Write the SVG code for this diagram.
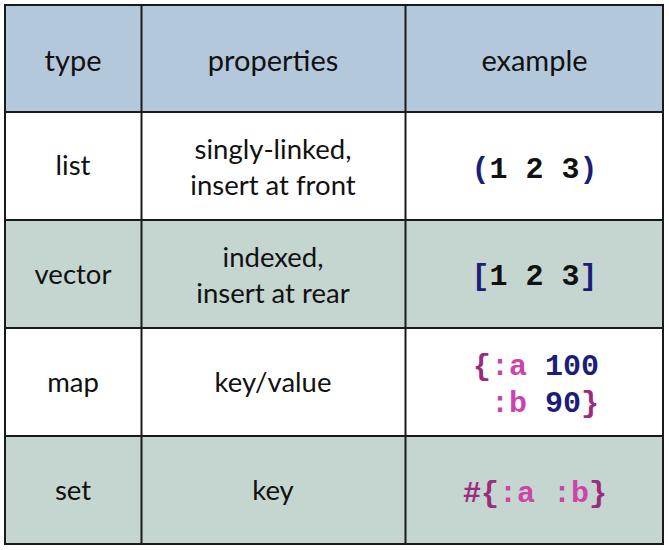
<svg xmlns="http://www.w3.org/2000/svg" width="669" height="550" viewBox="0 0 669 550">
<style>
.hdr{fill:#b4c8dc}
.alt{fill:#c5d5cf}
.wht{fill:#ffffff}
.grid{stroke:#1a1a1a;stroke-width:2;fill:none}
.t{font-family:Lato,"Open Sans","Liberation Sans",sans-serif;fill:#111;text-anchor:middle}
.h{font-size:29px}
.b{font-size:27.5px}
.c{font-family:"Liberation Mono","DejaVu Sans Mono",monospace;font-weight:bold;font-size:30px;text-anchor:middle;fill:#111}
.nv{fill:#1c1c7a}
.pk{fill:#cc44aa}
.pu{fill:#9a2c80}
.bk{fill:#111}
</style>
<rect width="669" height="550" fill="#ffffff"/>
<g id="header">
<rect class="hdr" x="5" y="5" width="658" height="107"/>
<text class="t h" x="73" y="71">type</text>
<text class="t h" x="273" y="71">properties</text>
<text class="t h" x="534.5" y="71">example</text>
</g>
<g id="row-list">
<rect class="wht" x="5" y="112" width="658" height="108"/>
<text class="t b" x="73" y="175">list</text>
<text class="t b" x="273" y="159">singly-linked,</text>
<text class="t b" x="273" y="195">insert at front</text>
<text class="c" x="534.5" y="178"><tspan class="nv">(</tspan><tspan class="bk">1 2 3</tspan><tspan class="nv">)</tspan></text>
</g>
<g id="row-vector">
<rect class="alt" x="5" y="220" width="658" height="108"/>
<text class="t b" x="73" y="284">vector</text>
<text class="t b" x="273" y="267">indexed,</text>
<text class="t b" x="273" y="303">insert at rear</text>
<text class="c" x="534.5" y="285"><tspan class="nv">[</tspan><tspan class="bk">1 2 3</tspan><tspan class="nv">]</tspan></text>
</g>
<g id="row-map">
<rect class="wht" x="5" y="328" width="658" height="108"/>
<text class="t b" x="73" y="392">map</text>
<text class="t b" x="273" y="392">key/value</text>
<text class="c" x="536" y="375" xml:space="preserve"><tspan class="pu">{</tspan><tspan class="pk">:a</tspan> <tspan class="nv">100</tspan></text>
<text class="c" x="536" y="412" xml:space="preserve"> <tspan class="pk">:b</tspan> <tspan class="nv">90</tspan><tspan class="pu">}</tspan></text>
</g>
<g id="row-set">
<rect class="alt" x="5" y="436" width="658" height="108"/>
<text class="t b" x="73" y="500">set</text>
<text class="t b" x="273" y="500">key</text>
<text class="c" x="535" y="502" xml:space="preserve"><tspan class="pu">#{</tspan><tspan class="pk">:a :b</tspan><tspan class="pu">}</tspan></text>
</g>
<g id="grid">
<rect class="grid" x="5" y="5" width="658" height="539"/>
<line class="grid" x1="5" y1="112" x2="663" y2="112"/>
<line class="grid" x1="5" y1="220" x2="663" y2="220"/>
<line class="grid" x1="5" y1="328" x2="663" y2="328"/>
<line class="grid" x1="5" y1="436" x2="663" y2="436"/>
<line class="grid" x1="141.5" y1="5" x2="141.5" y2="544"/>
<line class="grid" x1="405.5" y1="5" x2="405.5" y2="544"/>
</g>
</svg>
